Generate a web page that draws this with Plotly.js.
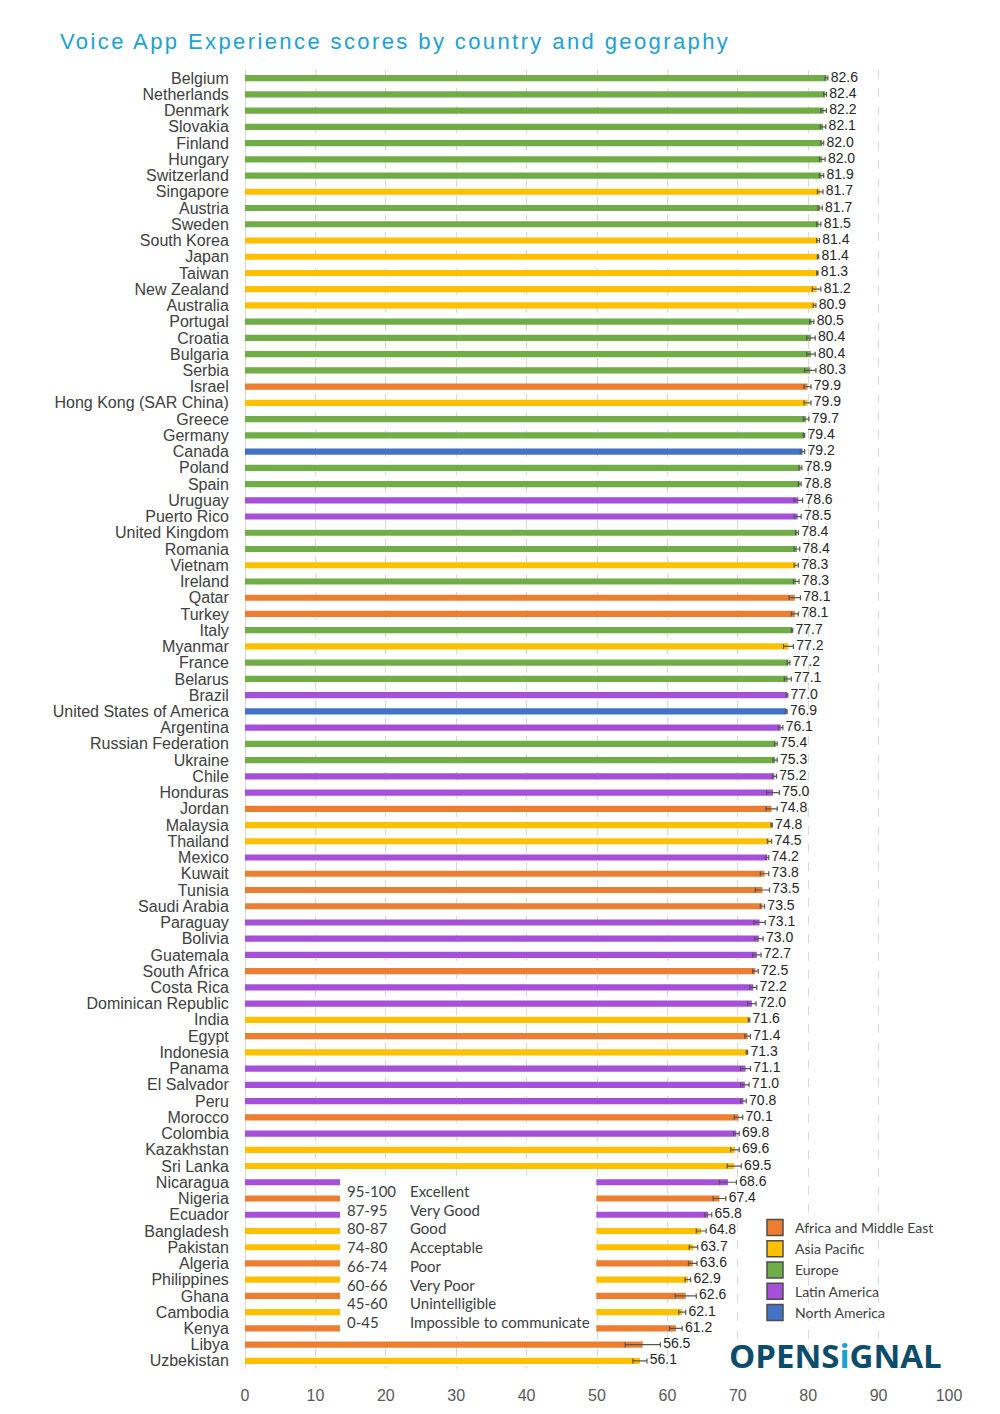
<!DOCTYPE html>
<html>
<head>
<meta charset="utf-8">
<script src="https://cdn.plot.ly/plotly-3.0.1.min.js"></script>
<style>
  html, body { margin: 0; padding: 0; background: #fff; }
  #chart { width: 1000px; height: 1414px; }
  #chart .gtitle { letter-spacing: 2.4px; }
</style>
</head>
<body>
<div id="chart"></div>
<script>
// ---------------- DATA ----------------
const countries = [
  "Belgium","Netherlands","Denmark","Slovakia","Finland","Hungary","Switzerland","Singapore","Austria","Sweden",
  "South Korea","Japan","Taiwan","New Zealand","Australia","Portugal","Croatia","Bulgaria","Serbia","Israel",
  "Hong Kong (SAR China)","Greece","Germany","Canada","Poland","Spain","Uruguay","Puerto Rico","United Kingdom","Romania",
  "Vietnam","Ireland","Qatar","Turkey","Italy","Myanmar","France","Belarus","Brazil","United States of America",
  "Argentina","Russian Federation","Ukraine","Chile","Honduras","Jordan","Malaysia","Thailand","Mexico","Kuwait",
  "Tunisia","Saudi Arabia","Paraguay","Bolivia","Guatemala","South Africa","Costa Rica","Dominican Republic","India","Egypt",
  "Indonesia","Panama","El Salvador","Peru","Morocco","Colombia","Kazakhstan","Sri Lanka","Nicaragua","Nigeria",
  "Ecuador","Bangladesh","Pakistan","Algeria","Philippines","Ghana","Cambodia","Kenya","Libya","Uzbekistan"
];
const regions = [
  "Europe","Europe","Europe","Europe","Europe","Europe","Europe","Asia Pacific","Europe","Europe",
  "Asia Pacific","Asia Pacific","Asia Pacific","Asia Pacific","Asia Pacific","Europe","Europe","Europe","Europe","Africa and Middle East",
  "Asia Pacific","Europe","Europe","North America","Europe","Europe","Latin America","Latin America","Europe","Europe",
  "Asia Pacific","Europe","Africa and Middle East","Africa and Middle East","Europe","Asia Pacific","Europe","Europe","Latin America","North America",
  "Latin America","Europe","Europe","Latin America","Latin America","Africa and Middle East","Asia Pacific","Asia Pacific","Latin America","Africa and Middle East",
  "Africa and Middle East","Africa and Middle East","Latin America","Latin America","Latin America","Africa and Middle East","Latin America","Latin America","Asia Pacific","Africa and Middle East",
  "Asia Pacific","Latin America","Latin America","Latin America","Africa and Middle East","Latin America","Asia Pacific","Asia Pacific","Latin America","Africa and Middle East",
  "Latin America","Asia Pacific","Asia Pacific","Africa and Middle East","Asia Pacific","Africa and Middle East","Asia Pacific","Africa and Middle East","Africa and Middle East","Asia Pacific"
];
const scores = [
  82.6,82.4,82.2,82.1,82.0,82.0,81.9,81.7,81.7,81.5,
  81.4,81.4,81.3,81.2,80.9,80.5,80.4,80.4,80.3,79.9,
  79.9,79.7,79.4,79.2,78.9,78.8,78.6,78.5,78.4,78.4,
  78.3,78.3,78.1,78.1,77.7,77.2,77.2,77.1,77.0,76.9,
  76.1,75.4,75.3,75.2,75.0,74.8,74.8,74.5,74.2,73.8,
  73.5,73.5,73.1,73.0,72.7,72.5,72.2,72.0,71.6,71.4,
  71.3,71.1,71.0,70.8,70.1,69.8,69.6,69.5,68.6,67.4,
  65.8,64.8,63.7,63.6,62.9,62.6,62.1,61.2,56.5,56.1
];
const errors = [
  0.2,0.2,0.4,0.4,0.2,0.4,0.3,0.4,0.3,0.3,
  0.2,0.1,0.1,0.6,0.2,0.3,0.6,0.6,0.8,0.5,
  0.5,0.4,0.1,0.3,0.2,0.2,0.6,0.5,0.2,0.4,
  0.3,0.4,0.8,0.5,0.1,0.7,0.2,0.5,0.1,0.1,
  0.3,0.2,0.3,0.3,0.9,0.8,0.1,0.3,0.2,0.6,
  1.0,0.3,0.8,0.6,0.6,0.4,0.5,0.6,0.1,0.4,
  0.1,0.7,0.6,0.4,0.6,0.4,0.6,1.0,1.2,0.9,
  0.5,0.7,0.6,0.6,0.4,1.5,0.5,0.9,2.5,1.0
];
const regionNames = ["Africa and Middle East","Asia Pacific","Europe","Latin America","North America"];
const ratingRanges = ["95-100","87-95","80-87","74-80","66-74","60-66","45-60","0-45"];
const ratingLabels = ["Excellent","Very Good","Good","Acceptable","Poor","Very Poor","Unintelligible","Impossible to communicate"];
const xTicks = [0,10,20,30,40,50,60,70,80,90,100];

// ---------------- STYLE ----------------
const regionColors = {
  "Africa and Middle East": "#ed7d31",
  "Asia Pacific": "#ffc000",
  "Europe": "#70ad47",
  "Latin America": "#a64fd9",
  "North America": "#4472c4"
};
const W = 1000, H = 1414;
const M = { l: 245, r: 51, t: 70, b: 45 };
const plotH = H - M.t - M.b;
const paperY = py => (H - M.b - py) / plotH;   // pixel -> paper y
const paperX = px => (px - M.l) / (W - M.l - M.r);

const traces = [];
traces.push({
  type: "bar", orientation: "h",
  y: countries, x: scores,
  marker: { color: regions.map(r => regionColors[r]) },
  error_x: { type: "data", array: errors, visible: true, color: "#555555", thickness: 1.2, width: 2.5 },
  width: 0.38,
  showlegend: false, hoverinfo: "x+y"
});
traces.push({
  type: "scatter", mode: "text",
  y: countries, x: scores.map((v, i) => v + errors[i]),
  text: scores.map(v => "\u2009" + v.toFixed(1)),
  textposition: "middle right",
  textfont: { family: "Liberation Sans, Arial, sans-serif", size: 14, color: "#262626" },
  cliponaxis: false, showlegend: false, hoverinfo: "skip"
});
regionNames.forEach(r => {
  traces.push({
    type: "scatter", mode: "markers", name: r,
    x: [null], y: [null],
    marker: { symbol: "square", size: 16, color: regionColors[r], line: { color: "#4d4d4d", width: 1.5 } },
    showlegend: true, hoverinfo: "skip"
  });
});

const annotations = [];
ratingRanges.forEach((t, i) => {
  const y = paperY(1191 + i * 18.7);
  annotations.push({ xref: "paper", yref: "paper", x: paperX(345), y: y, xanchor: "left", yanchor: "middle",
    text: t, showarrow: false, font: { family: "Lato, sans-serif", size: 15, color: "#404040" } });
  annotations.push({ xref: "paper", yref: "paper", x: paperX(408), y: y, xanchor: "left", yanchor: "middle",
    text: ratingLabels[i], showarrow: false, font: { family: "Lato, sans-serif", size: 15, color: "#404040" } });
});
annotations.push({
  xref: "paper", yref: "paper", x: paperX(835), y: paperY(1355), xanchor: "center", yanchor: "middle",
  text: "<b>OPENS<span style='color:#1ba1d3'>i</span>GNAL</b>", showarrow: false,
  font: { family: "Open Sans, sans-serif", size: 33, color: "#0d4c6b" }
});

const layout = {
  width: W, height: H,
  margin: M,
  paper_bgcolor: "#ffffff", plot_bgcolor: "#ffffff",
  title: {
    text: "Voice App Experience scores by country and geography",
    xref: "container", yref: "container", x: 0.06, xanchor: "left", y: 1 - 41 / H, yanchor: "middle",
    font: { family: "Liberation Sans, Arial, sans-serif", size: 22, color: "#1ba1d3" }
  },
  bargap: 0.62,
  barmode: "overlay",
  xaxis: {
    range: [0, 100], tickvals: xTicks, ticktext: xTicks.map(String),
    showgrid: true, gridcolor: "#d9d9d9", griddash: "dash", gridwidth: 1,
    zeroline: true, zerolinecolor: "#d9d9d9", zerolinewidth: 1,
    showline: false, ticks: "outside", ticklen: 12, tickcolor: "rgba(0,0,0,0)",
    tickfont: { family: "Liberation Sans, Arial, sans-serif", size: 16, color: "#595959" },
    fixedrange: true
  },
  yaxis: {
    type: "category", categoryorder: "array", categoryarray: countries,
    range: [countries.length - 0.5, -0.5], autorange: false,
    tickmode: "array", tickvals: countries, ticktext: countries,
    showgrid: false, zeroline: false, showline: false,
    ticks: "outside", ticklen: 12, tickcolor: "rgba(0,0,0,0)",
    tickfont: { family: "Liberation Sans, Arial, sans-serif", size: 16, color: "#404040" },
    fixedrange: true
  },
  shapes: [{
    type: "rect", xref: "x", yref: "y", x0: 13.5, x1: 49.9, y0: 67.6, y1: 77.5,
    fillcolor: "#ffffff", line: { width: 0 }, layer: "above"
  }],
  legend: {
    x: paperX(755), y: paperY(1212), xanchor: "left", yanchor: "top",
    font: { family: "Lato, sans-serif", size: 14, color: "#404040" },
    bgcolor: "rgba(0,0,0,0)", tracegroupgap: 0, itemwidth: 30
  },
  annotations: annotations
};

Plotly.newPlot("chart", traces, layout, { displayModeBar: false, staticPlot: true });
</script>
</body>
</html>
